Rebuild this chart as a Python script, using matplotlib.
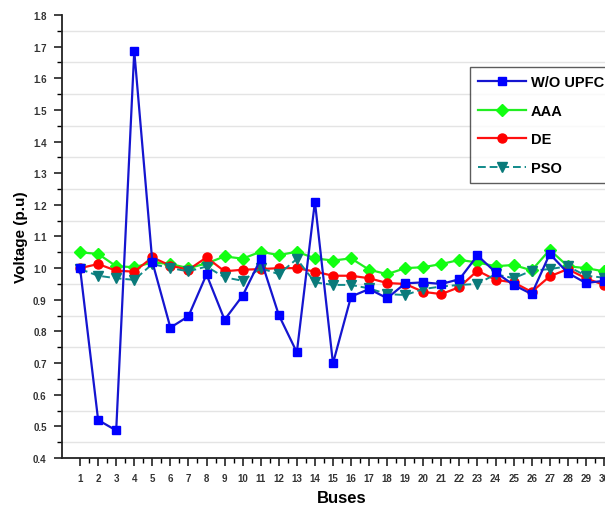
import matplotlib
matplotlib.use("Agg")
import matplotlib.pyplot as plt
from matplotlib.ticker import MultipleLocator, FormatStrFormatter, FixedLocator

buses = list(range(1, 31))
wo_upfc = [1.00, 0.52, 0.487, 1.686, 1.02, 0.812, 0.848, 0.98, 0.837, 0.913,
           1.029, 0.852, 0.734, 1.21, 0.699, 0.91, 0.934, 0.905, 0.952, 0.955,
           0.95, 0.965, 1.04, 0.987, 0.947, 0.918, 1.045, 0.985, 0.953, 0.96]
aaa = [1.05, 1.045, 1.006, 1.003, 1.018, 1.013, 1.0, 1.015, 1.037, 1.03,
       1.052, 1.041, 1.052, 1.031, 1.024, 1.031, 0.995, 0.981, 1.0, 1.003,
       1.013, 1.026, 1.018, 1.006, 1.01, 0.993, 1.058, 1.006, 1.0, 0.99]
de = [1.0, 1.013, 0.992, 0.989, 1.034, 1.008, 0.995, 1.034, 0.99, 0.995,
      0.997, 1.0, 1.0, 0.989, 0.976, 0.976, 0.968, 0.953, 0.95, 0.925,
      0.918, 0.94, 0.992, 0.963, 0.955, 0.925, 0.974, 0.997, 0.968, 0.947]
pso = [0.997, 0.976, 0.968, 0.963, 1.013, 1.0, 0.99, 1.005, 0.971, 0.96,
       1.0, 0.981, 1.029, 0.955, 0.947, 0.947, 0.936, 0.918, 0.915, 0.934,
       0.942, 0.947, 0.95, 0.981, 0.968, 0.992, 0.997, 1.006, 0.976, 0.97]

plt.rcParams['font.family'] = ['Liberation Sans', 'DejaVu Sans']

fig = plt.figure(figsize=(6.05, 5.06), dpi=100)
ax = fig.add_axes([62/605, 1-459/506, 560/605, 443/506])

ax.plot(buses, wo_upfc, color='#1515d0', marker='s', markerfacecolor='#0000ff',
        markeredgecolor='#0000ff', markersize=6, linewidth=1.6, label='W/O UPFC', zorder=3)
ax.plot(buses, aaa, color='#22ee22', marker='D', markerfacecolor='#11ff11',
        markeredgecolor='#11ff11', markersize=6, linewidth=1.6, label='AAA', zorder=2)
ax.plot(buses, de, color='#ff1010', marker='o', markerfacecolor='#ff0000',
        markeredgecolor='#ff0000', markersize=6.5, linewidth=1.6, label='DE', zorder=2.5)
ax.plot(buses, pso, color='#108a8a', marker='v', markerfacecolor='#0a7a7a',
        markeredgecolor='#0a7a7a', markersize=7, linewidth=1.4, linestyle='--',
        dashes=(4, 2), label='PSO', zorder=2.7)

ax.set_xlim(0, 31)
ax.set_ylim(0.4, 1.8)
ax.set_xticks(buses)
ax.set_xticklabels([str(b) for b in buses])
ax.xaxis.set_minor_locator(FixedLocator([b + 0.5 for b in buses]))
ax.yaxis.set_major_locator(MultipleLocator(0.1))
ax.yaxis.set_minor_locator(MultipleLocator(0.05))
ax.yaxis.set_major_formatter(FormatStrFormatter('%.1f'))

ax.tick_params(axis='both', which='major', direction='out', length=6, width=1.2,
               labelsize=7, colors='#222222', pad=5)
ax.tick_params(axis='both', which='minor', direction='out', length=3.5, width=1.0)
for lbl in ax.get_xticklabels() + ax.get_yticklabels():
    lbl.set_fontweight('bold')
    lbl.set_color('#333333')

ax.grid(axis='y', which='minor', color='#e4e4e4', linewidth=1.0)
ax.grid(axis='y', which='major', visible=False)
ax.set_axisbelow(True)
ax.spines['top'].set_visible(False)
for s in ax.spines.values():
    s.set_linewidth(1.3)
    s.set_color('#222222')

ax.set_xlabel('Buses', fontsize=12, fontweight='bold', labelpad=5)
ax.set_ylabel('Voltage (p.u)', fontsize=11, fontweight='bold', labelpad=4)

leg = ax.legend(loc='upper left', bbox_to_anchor=(0.7286, 0.8826),
                prop={'weight': 'bold', 'size': 10.5}, handlelength=3.3,
                labelspacing=1.0, frameon=True, fancybox=False,
                borderpad=0.55, handletextpad=0.3, borderaxespad=0)
leg.get_frame().set_edgecolor('#333333')
leg.get_frame().set_linewidth(1.0)

fig.savefig('out.png', dpi=100)
